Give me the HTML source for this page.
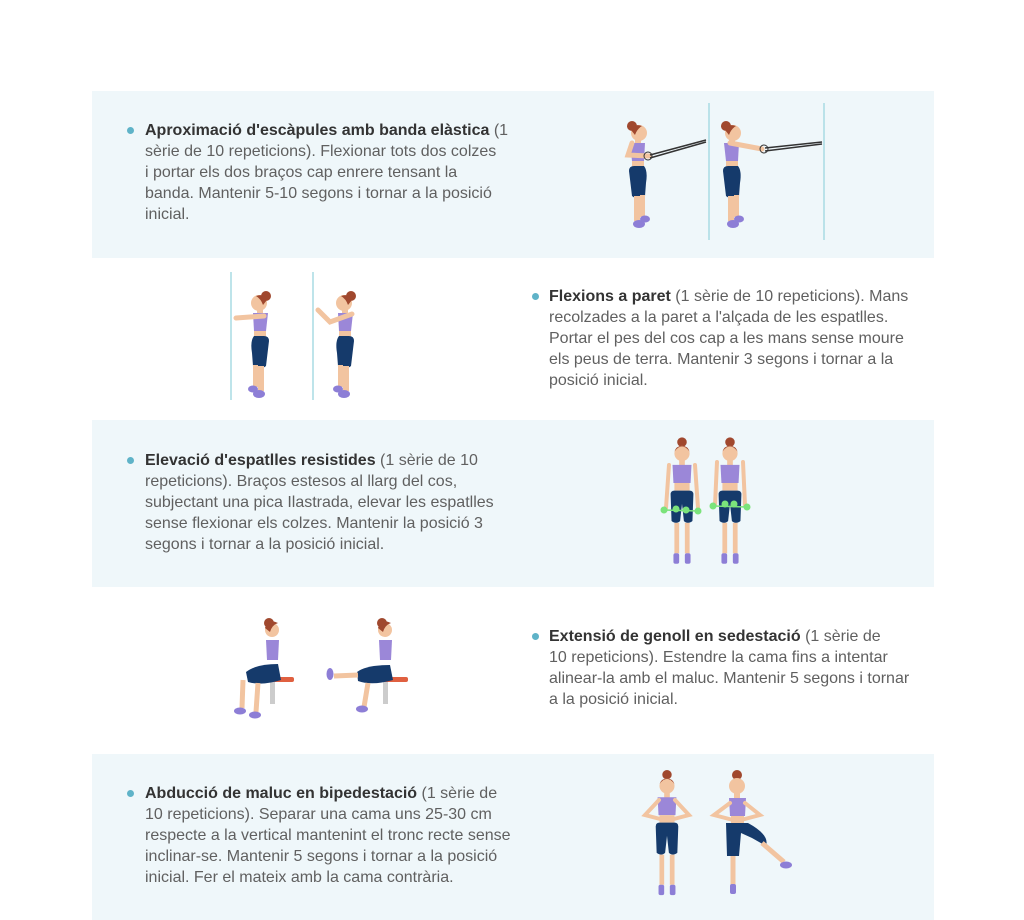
<!DOCTYPE html>
<html><head><meta charset="utf-8"><style>
body{margin:0;width:1024px;height:920px;background:#fff;position:relative;overflow:hidden;font-family:"Liberation Sans",sans-serif}
.band{position:absolute;left:92px;width:842px;background:#eff7fa}
.t{position:absolute;font-size:16px;line-height:21px;color:#606060;white-space:nowrap}
.t b{color:#333}
.dot{position:absolute;width:7px;height:7px;border-radius:50%;background:#5fb3c8}
svg{position:absolute;left:0;top:0}
</style></head><body>
<div class="band" style="top:91px;height:167px"></div>
<div class="band" style="top:420px;height:167px"></div>
<div class="band" style="top:754px;height:166px"></div>

<div class="dot" style="left:127px;top:127px"></div>
<div class="t" style="left:145px;top:120px"><b>Aproximació d'escàpules amb banda elàstica</b> (1<br>sèrie de 10 repeticions). Flexionar tots dos colzes<br>i portar els dos braços cap enrere tensant la<br>banda. Mantenir 5-10 segons i tornar a la posició<br>inicial.</div>

<div class="dot" style="left:532px;top:293px"></div>
<div class="t" style="left:549px;top:286px"><b>Flexions a paret</b> (1 sèrie de 10 repeticions). Mans<br>recolzades a la paret a l'alçada de les espatlles.<br>Portar el pes del cos cap a les mans sense moure<br>els peus de terra. Mantenir 3 segons i tornar a la<br>posició inicial.</div>

<div class="dot" style="left:127px;top:457px"></div>
<div class="t" style="left:145px;top:450px"><b>Elevació d'espatlles resistides</b> (1 sèrie de 10<br>repeticions). Braços estesos al llarg del cos,<br>subjectant una pica Ilastrada, elevar les espatlles<br>sense flexionar els colzes. Mantenir la posició 3<br>segons i tornar a la posició inicial.</div>

<div class="dot" style="left:532px;top:633px"></div>
<div class="t" style="left:549px;top:626px"><b>Extensió de genoll en sedestació</b> (1 sèrie de<br>10 repeticions). Estendre la cama fins a intentar<br>alinear-la amb el maluc. Mantenir 5 segons i tornar<br>a la posició inicial.</div>

<div class="dot" style="left:127px;top:790px"></div>
<div class="t" style="left:145px;top:783px"><b>Abducció de maluc en bipedestació</b> (1 sèrie de<br>10 repeticions). Separar una cama uns 25-30 cm<br>respecte a la vertical mantenint el tronc recte sense<br>inclinar-se. Mantenir 5 segons i tornar a la posició<br>inicial. Fer el mateix amb la cama contrària.</div>

<svg width="1024" height="920" viewBox="0 0 1024 920">
<defs>
<symbol id="side" viewBox="0 0 40 110">
<rect x="17" y="16" width="6" height="8" fill="#f2c4a0"/>
<circle cx="14" cy="5" r="5" fill="#a0482e"/>
<circle cx="21" cy="12" r="8" fill="#f2c4a0"/>
<path d="M13 9 Q16 2 24 5 Q19 8 17 14 Z" fill="#a0482e"/>
<path d="M12 22 L27 22 L26 40 L14 40 Z" fill="#9b87d8"/>
<rect x="14" y="40" width="12" height="6" fill="#f2c4a0"/>
<path d="M11 50 Q11 45 16 45 L26 45 Q30 50 28 62 L27 75 Q20 80 14 75 Z" fill="#153a6b"/>
<rect x="16" y="75" width="6" height="25" fill="#f2c4a0"/>
<rect x="22" y="74" width="5" height="22" fill="#f2c4a0"/>
<ellipse cx="21" cy="103" rx="6" ry="4" fill="#8d7ed6"/>
<ellipse cx="27" cy="98" rx="5" ry="3.5" fill="#8d7ed6"/>
</symbol>
<symbol id="front" viewBox="0 0 40 135">
<circle cx="20" cy="5" r="5" fill="#a0482e"/>
<circle cx="20" cy="17" r="8" fill="#f2c4a0"/>
<path d="M12 15 Q20 4 28 15 Q26 9 20 9 Q14 9 12 15Z" fill="#a0482e"/>
<rect x="17" y="24" width="6" height="6" fill="#f2c4a0"/>
<path d="M10 29 L30 29 L29 48 L11 48 Z" fill="#9b87d8"/>
<rect x="12" y="48" width="16" height="8" fill="#f2c4a0"/>
<path d="M8 60 Q8 56 12 56 L28 56 Q32 56 32 60 L31 88 Q26 92 22 88 L20 70 L18 88 Q14 92 9 88 Z" fill="#153a6b"/>
<rect x="12" y="90" width="5" height="32" fill="#f2c4a0"/>
<rect x="23" y="90" width="5" height="32" fill="#f2c4a0"/>
<rect x="11" y="122" width="6" height="11" rx="2" fill="#8d7ed6"/>
<rect x="23" y="122" width="6" height="11" rx="2" fill="#8d7ed6"/>
</symbol>
</defs>

<line x1="709" y1="103" x2="709" y2="240" stroke="#a8dbe3" stroke-width="1.5"/>
<line x1="824" y1="103" x2="824" y2="240" stroke="#a8dbe3" stroke-width="1.5"/>
<use href="#side" x="618" y="120" width="40" height="112"/>
<path d="M632 143 L628 155 L650 156" stroke="#f2c4a0" stroke-width="5" fill="none" stroke-linecap="round"/>
<line x1="650" y1="155" x2="706" y2="140" stroke="#333" stroke-width="1.5"/>
<line x1="650" y1="158" x2="706" y2="142" stroke="#333" stroke-width="1.5"/>
<circle cx="648" cy="156" r="4" fill="none" stroke="#333"/>
<use href="#side" x="712" y="120" width="40" height="112"/>
<path d="M730 143 L762 149" stroke="#f2c4a0" stroke-width="5" stroke-linecap="round"/>
<line x1="765" y1="148" x2="822" y2="142" stroke="#333" stroke-width="1.5"/>
<line x1="765" y1="151" x2="822" y2="144" stroke="#333" stroke-width="1.5"/>
<circle cx="764" cy="149" r="4" fill="none" stroke="#333"/>

<line x1="231" y1="272" x2="231" y2="400" stroke="#a8dbe3" stroke-width="1.5"/>
<line x1="313" y1="272" x2="313" y2="400" stroke="#a8dbe3" stroke-width="1.5"/>
<g transform="translate(530,0) scale(-1,1)"><use href="#side" x="250" y="290" width="40" height="112"/></g>
<path d="M264 316 L236 318" stroke="#f2c4a0" stroke-width="5" stroke-linecap="round"/>
<g transform="translate(700,0) scale(-1,1)"><use href="#side" x="335" y="290" width="40" height="112"/></g>
<path d="M352 314 L330 322 L318 310" stroke="#f2c4a0" stroke-width="5" fill="none" stroke-linecap="round"/>

<use href="#front" x="663" y="435" width="38" height="133"/>
<use href="#front" x="711" y="435" width="38" height="133"/>
<g stroke="#f2c4a0" stroke-width="4" stroke-linecap="round">
<line x1="669" y1="465" x2="666" y2="508"/><line x1="695" y1="465" x2="698" y2="508"/>
<line x1="717" y1="462" x2="715" y2="505"/><line x1="743" y1="462" x2="745" y2="505"/>
</g>
<g fill="#7be37b"><circle cx="664" cy="510" r="3.5"/><circle cx="676" cy="509" r="3.5"/><circle cx="686" cy="510" r="3.5"/><circle cx="698" cy="511" r="3.5"/>
<circle cx="713" cy="506" r="3.5"/><circle cx="725" cy="504" r="3.5"/><circle cx="734" cy="504" r="3.5"/><circle cx="747" cy="507" r="3.5"/></g>
<line x1="664" y1="510" x2="698" y2="511" stroke="#7be37b" stroke-width="1.5"/>
<line x1="713" y1="506" x2="747" y2="507" stroke="#7be37b" stroke-width="1.5"/>

<g>
<rect x="266" y="677" width="28" height="5" rx="2" fill="#e06040"/>
<rect x="270" y="682" width="5" height="22" fill="#ccc"/>
<circle cx="269" cy="623" r="5" fill="#a0482e"/><circle cx="272" cy="630" r="7" fill="#f2c4a0"/>
<path d="M265 628 Q268 618 278 623 Q272 625 270 632Z" fill="#a0482e"/>
<path d="M266 640 L279 640 L278 660 L267 660 Z" fill="#9b87d8"/>
<path d="M246 672 Q256 664 278 664 L281 680 Q262 686 248 682 Z" fill="#153a6b"/>
<path d="M243 680 L242 708 M258 683 L256 712" stroke="#f2c4a0" stroke-width="5"/>
<ellipse cx="240" cy="711" rx="6" ry="3.5" fill="#8d7ed6"/><ellipse cx="255" cy="715" rx="6" ry="3.5" fill="#8d7ed6"/>
</g>
<g>
<rect x="380" y="677" width="28" height="5" rx="2" fill="#e06040"/>
<rect x="383" y="682" width="5" height="22" fill="#ccc"/>
<circle cx="382" cy="623" r="5" fill="#a0482e"/><circle cx="385" cy="630" r="7" fill="#f2c4a0"/>
<path d="M378 628 Q381 618 391 623 Q385 625 383 632Z" fill="#a0482e"/>
<path d="M379 640 L392 640 L391 660 L380 660 Z" fill="#9b87d8"/>
<path d="M357 672 Q366 665 390 665 L393 680 Q372 686 358 681 Z" fill="#153a6b"/>
<path d="M358 675 L334 676" stroke="#f2c4a0" stroke-width="5"/>
<path d="M368 683 L364 707" stroke="#f2c4a0" stroke-width="5"/>
<ellipse cx="330" cy="674" rx="3.5" ry="6" fill="#8d7ed6"/><ellipse cx="362" cy="709" rx="6" ry="3.5" fill="#8d7ed6"/>
</g>

<use href="#front" x="647" y="770" width="40" height="127"/>
<path d="M659 800 L645 815 L664 820 M675 800 L689 815 L670 820" stroke="#f2c4a0" stroke-width="4" fill="none" stroke-linecap="round"/>
<g>
<circle cx="737" cy="775" r="5" fill="#a0482e"/><circle cx="737" cy="786" r="8" fill="#f2c4a0"/>
<rect x="734" y="793" width="6" height="6" fill="#f2c4a0"/>
<path d="M729 798 L746 798 L745 816 L730 816 Z" fill="#9b87d8"/>
<rect x="731" y="816" width="13" height="7" fill="#f2c4a0"/>
<path d="M726 823 L748 823 Q770 835 766 846 L752 838 L741 833 L739 856 L727 856 Z" fill="#153a6b"/>
<path d="M733 856 L733 885" stroke="#f2c4a0" stroke-width="5"/>
<path d="M762 843 L784 862" stroke="#f2c4a0" stroke-width="5"/>
<rect x="730" y="884" width="6" height="10" rx="2" fill="#8d7ed6"/>
<ellipse cx="786" cy="865" rx="6" ry="3.5" fill="#8d7ed6"/>
<path d="M730 803 L714 815 L733 820 M745 803 L760 815 L741 820" stroke="#f2c4a0" stroke-width="4" fill="none" stroke-linecap="round"/>
</g>
</svg>
</body></html>
